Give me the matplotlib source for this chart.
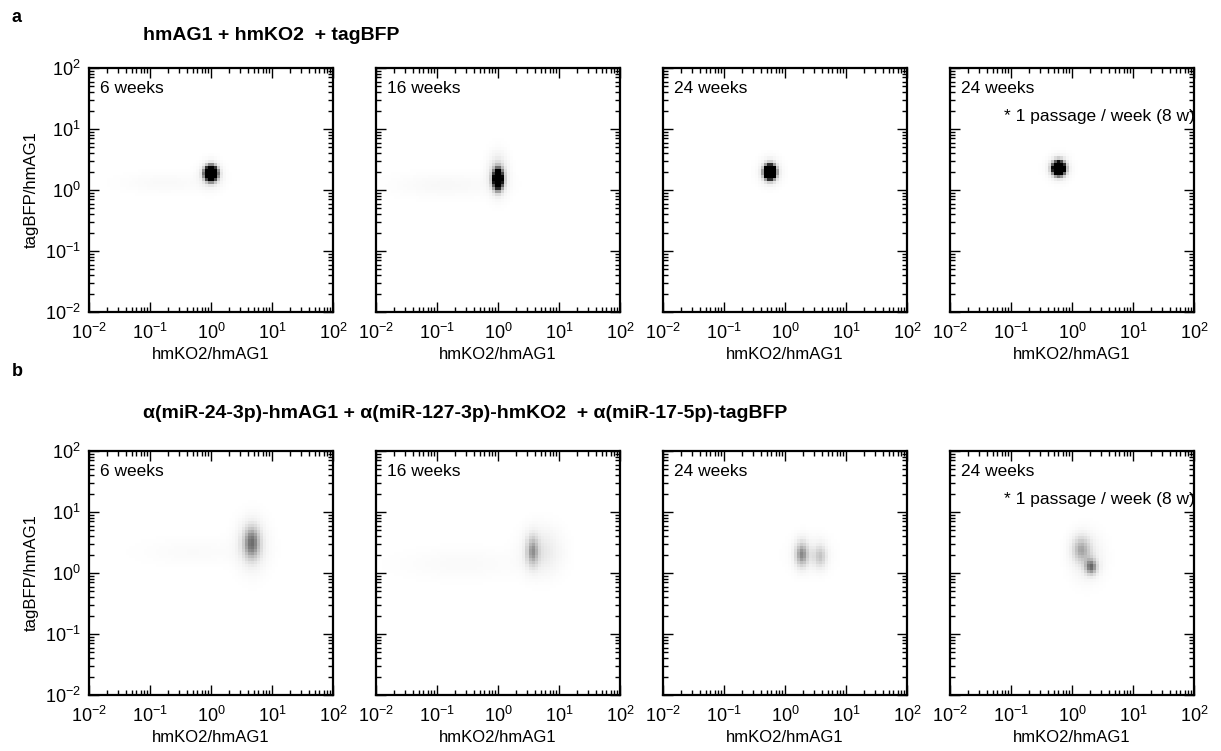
import numpy as np
import matplotlib
matplotlib.use("Agg")
import matplotlib.pyplot as plt
from matplotlib.ticker import LogLocator, NullFormatter

plt.rcParams['font.family'] = ['Liberation Sans', 'DejaVu Sans']
plt.rcParams['mathtext.fontset'] = 'custom'
plt.rcParams['mathtext.rm'] = 'Liberation Sans'
plt.rcParams['mathtext.it'] = 'Liberation Sans:italic'
plt.rcParams['mathtext.bf'] = 'Liberation Sans:bold'
plt.rcParams['axes.unicode_minus'] = False

# ---------------------------------------------------------------------------
# data
# ---------------------------------------------------------------------------
row_letters = ['a', 'b']
row_titles = ['hmAG1 + hmKO2  + tagBFP',
              '\u03b1(miR-24-3p)-hmAG1 + \u03b1(miR-127-3p)-hmKO2  + \u03b1(miR-17-5p)-tagBFP']
panel_labels = ['6 weeks', '16 weeks', '24 weeks', '24 weeks']
panel_notes = ['', '', '', '* 1 passage / week (8 w)']
x_label = 'hmKO2/hmAG1'
y_label = 'tagBFP/hmAG1'
decades = [1e-2, 1e-1, 1e0, 1e1, 1e2]

# density components per panel, in log10 units:
# (log x centre, log y centre, x spread, y spread, peak darkness)
blobs_a = [
    [(0.00, 0.28, 0.065, 0.075, 3.0), (0.00, 0.25, 0.12, 0.14, 0.25),
     (-0.75, 0.12, 0.50, 0.12, 0.05)],
    [(0.00, 0.18, 0.055, 0.11, 2.0), (0.00, 0.25, 0.11, 0.22, 0.30),
     (-0.85, 0.08, 0.60, 0.14, 0.06)],
    [(-0.25, 0.30, 0.06, 0.075, 3.0), (-0.25, 0.30, 0.12, 0.14, 0.25)],
    [(-0.22, 0.36, 0.065, 0.07, 3.0), (-0.22, 0.36, 0.12, 0.13, 0.25)],
]
blobs_b = [
    [(0.66, 0.50, 0.10, 0.19, 0.50), (0.68, 0.45, 0.18, 0.30, 0.15),
     (-0.30, 0.35, 0.60, 0.15, 0.04)],
    [(0.56, 0.36, 0.07, 0.18, 0.40), (0.72, 0.36, 0.22, 0.26, 0.17),
     (-0.60, 0.15, 0.70, 0.18, 0.045)],
    [(0.28, 0.31, 0.08, 0.15, 0.50), (0.57, 0.28, 0.08, 0.14, 0.30),
     (0.42, 0.30, 0.25, 0.22, 0.06)],
    [(0.15, 0.40, 0.11, 0.15, 0.35), (0.32, 0.10, 0.07, 0.09, 0.55),
     (0.25, 0.25, 0.18, 0.26, 0.15)],
]
blobs = [blobs_a, blobs_b]

# ---------------------------------------------------------------------------
W, H = 1221, 751
fig = plt.figure(figsize=(W / 100, H / 100), dpi=100)

col_left = [89, 376, 663, 950]
row_top = [68, 451]
title_y = [35, 414]
letter_y = [18, 372]
size = 244

edges = np.linspace(-2, 2, 81)
centres = 0.5 * (edges[:-1] + edges[1:])
gx, gy = np.meshgrid(centres, centres)


def density(components):
    z = np.zeros_like(gx)
    for cx, cy, sx, sy, amp in components:
        z += amp * np.exp(-0.5 * (((gx - cx) / sx) ** 2 + ((gy - cy) / sy) ** 2))
    return np.clip(z, 0, 1)


for r in range(2):
    fig.text(12 / W, 1 - letter_y[r] / H, row_letters[r], fontsize=13,
             fontweight='bold', va='center', ha='left')
    fig.text(143 / W, 1 - title_y[r] / H, row_titles[r], fontsize=14,
             fontweight='bold', va='center', ha='left')
    for c in range(4):
        ax = fig.add_axes([col_left[c] / W, 1 - (row_top[r] + size) / H, size / W, size / H])
        ax.pcolormesh(10 ** edges, 10 ** edges, density(blobs[r][c]),
                      cmap='Greys', vmin=0, vmax=1, shading='flat', rasterized=True)
        ax.set_xscale('log')
        ax.set_yscale('log')
        ax.set_xlim(1e-2, 1e2)
        ax.set_ylim(1e-2, 1e2)
        ax.set_xticks(decades)
        ax.set_yticks(decades)
        ax.xaxis.set_minor_locator(LogLocator(base=10, subs=np.arange(2, 10), numticks=10))
        ax.yaxis.set_minor_locator(LogLocator(base=10, subs=np.arange(2, 10), numticks=10))
        ax.xaxis.set_minor_formatter(NullFormatter())
        ax.yaxis.set_minor_formatter(NullFormatter())
        ax.tick_params(which='both', direction='in', top=True, right=True,
                       labelsize=13, width=1)
        ax.tick_params(axis='x', pad=8)
        ax.tick_params(axis='y', pad=6)
        ax.tick_params(which='major', length=7)
        ax.tick_params(which='minor', length=3.5)
        for sp in ax.spines.values():
            sp.set_linewidth(1.6)
        if c > 0:
            ax.set_yticklabels([])
        else:
            ax.set_ylabel(y_label, fontsize=12, labelpad=4)
        ax.set_xlabel(x_label, fontsize=12, labelpad=3)
        ax.text(0.045, 0.915, panel_labels[c], transform=ax.transAxes,
                fontsize=12.5, va='center', ha='left')
        if panel_notes[c]:
            ax.text(0.22, 0.80, panel_notes[c], transform=ax.transAxes,
                    fontsize=12.5, va='center', ha='left')

fig.savefig('out.png', dpi=100)
